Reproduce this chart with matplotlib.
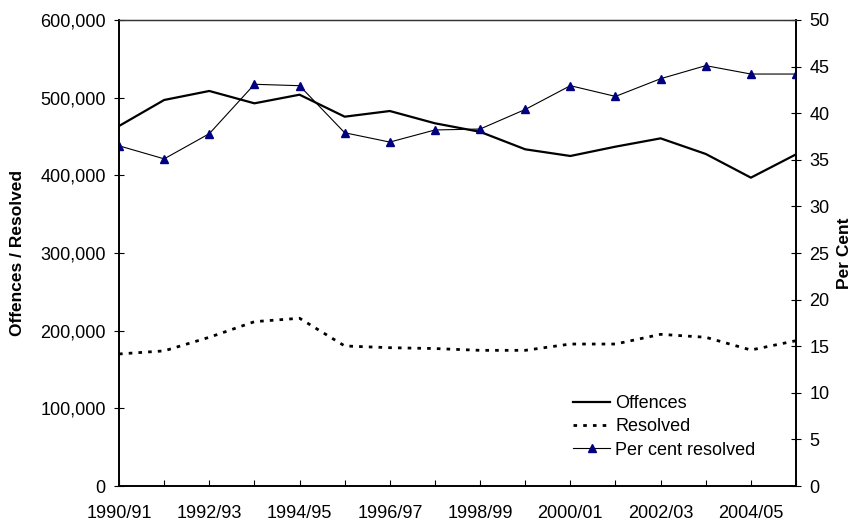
import numpy as np
import matplotlib
matplotlib.use("Agg")
import matplotlib.pyplot as plt
from matplotlib.ticker import FuncFormatter

plt.rcParams['font.family'] = ['Liberation Sans', 'DejaVu Sans']

years = ["1990/91", "1991/92", "1992/93", "1993/94", "1994/95", "1995/96",
         "1996/97", "1997/98", "1998/99", "1999/00", "2000/01", "2001/02",
         "2002/03", "2003/04", "2004/05", "2005/06"]
offences = [463500, 497000, 508600, 492700, 503800, 475500, 482800, 467000,
            456000, 433500, 424900, 436900, 447600, 427500, 397000, 427000]
resolved = [170000, 174000, 191500, 211600, 216000, 180300, 178100, 177000,
            174700, 174700, 182800, 182800, 195300, 191500, 175100, 187100]
per_cent = [36.5, 35.1, 37.8, 43.1, 42.95, 37.9, 36.9, 38.2,
            38.3, 40.4, 42.95, 41.8, 43.7, 45.1, 44.2, 44.2]

x = np.arange(len(years))

fig = plt.figure(figsize=(8.52, 5.23), dpi=100)
ax = fig.add_axes([0.1397, 0.0707, 0.7946, 0.8911])
ax2 = ax.twinx()

l1, = ax.plot(x, offences, color='black', lw=1.6, label='Offences')
l2, = ax.plot(x, resolved, color='black', lw=2.0, linestyle=(0, (1.3, 2.2)),
              label='Resolved')
l3, = ax2.plot(x, per_cent, color='black', lw=0.8, marker='^', markersize=5.5,
               markerfacecolor='#000080', markeredgecolor='#000080',
               label='Per cent resolved')

ax.set_xlim(0, len(years) - 1)
ax.set_ylim(0, 600000)
ax2.set_ylim(0, 50)
ax.set_yticks(np.arange(0, 600001, 100000))
ax2.set_yticks(np.arange(0, 51, 5))
ax.yaxis.set_major_formatter(FuncFormatter(lambda v, p: f"{int(v):,}"))

ax.set_xticks(x)
ax.set_xticklabels([y if i % 2 == 0 else "" for i, y in enumerate(years)])

for a in (ax, ax2):
    for s in a.spines.values():
        s.set_linewidth(1.2)
    a.spines['top'].set_linewidth(0.9)
    a.spines['top'].set_color('#333333')
ax.tick_params(axis='y', direction='inout', length=7, labelsize=13, pad=6)
ax2.tick_params(axis='y', direction='inout', length=7, labelsize=13, pad=6)
ax.tick_params(axis='x', direction='in', length=4.5, labelsize=13, pad=14)

ax.set_ylabel("Offences / Resolved", fontsize=12.5, fontweight='bold')
ax2.set_ylabel("Per Cent", fontsize=12.5, fontweight='bold')
ax.yaxis.set_label_coords(-0.139, 0.5)
ax2.yaxis.set_label_coords(1.06, 0.5)

ax.legend(handles=[l1, l2, l3], loc='upper left', frameon=False, fontsize=13,
          handlelength=2.05, handletextpad=0.28, labelspacing=0.35,
          borderpad=0, borderaxespad=0, bbox_to_anchor=(0.671, 0.195))

fig.savefig("out.png", dpi=100)
